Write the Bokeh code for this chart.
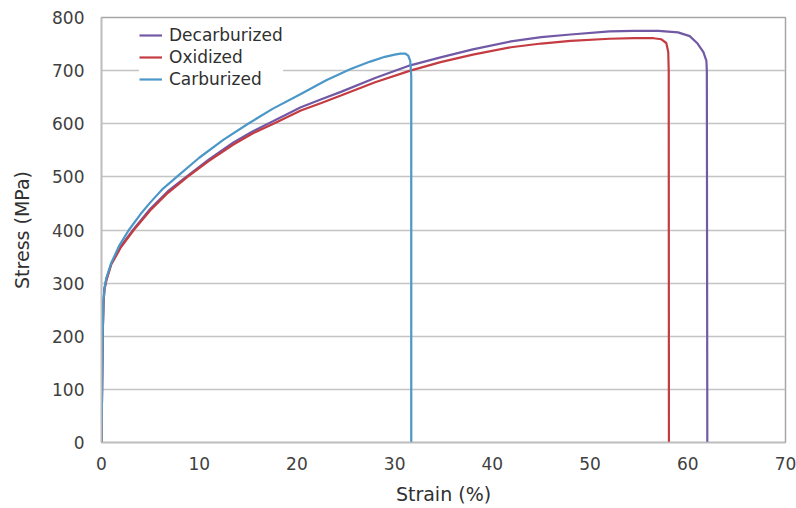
from bokeh.plotting import figure
from bokeh.models import Range1d, FixedTicker, Legend, LegendItem
from bokeh.embed import file_html
from bokeh.resources import INLINE

# ---- data ----
decarb_strain = [0, 0.12, 0.2, 0.3, 0.5, 1.0, 2.0, 3.3, 5.0, 6.8, 8.8, 11.0, 13.5, 15.5, 17.6,
                 20.4, 22.5, 24.5, 28.0, 31.6, 34.7, 38.0, 41.9, 45.0, 48.0, 52.0, 54.5, 57.0,
                 59.0, 60.2, 61.0, 61.6, 61.9, 61.95, 62.0]
decarb_stress = [0, 200, 263, 290, 307, 337, 370, 402, 440, 473, 502, 533, 565, 586, 605,
                 631, 646, 660, 686, 710, 725, 740, 755, 763, 768, 774, 775, 775,
                 772, 765, 751, 735, 719, 700, 0]

oxid_strain = [0, 0.12, 0.2, 0.3, 0.5, 1.0, 2.0, 3.3, 5.0, 6.8, 8.8, 11.0, 13.5, 15.5, 17.6,
               20.4, 22.5, 24.5, 28.0, 31.6, 34.7, 38.0, 41.9, 45.0, 48.0, 52.0, 54.5, 56.5,
               57.3, 57.8, 58.0, 58.05, 58.07]
oxid_stress = [0, 200, 262, 288, 305, 335, 368, 400, 437, 470, 500, 530, 561, 582, 600,
               625, 639, 653, 678, 700, 716, 730, 744, 751, 756, 760, 761, 761,
               759, 752, 735, 700, 0]

carb_strain = [0, 0.12, 0.2, 0.3, 0.5, 1.0, 1.8, 2.8, 4.0, 5.0, 6.3, 7.7, 10.0, 12.5, 15.0,
               17.5, 20.4, 23.0, 25.5, 27.5, 29.0, 30.0, 30.6, 31.1, 31.4, 31.6, 31.7, 31.7]
carb_stress = [0, 200, 265, 290, 310, 338, 370, 400, 430, 452, 478, 500, 536, 570, 600,
               628, 656, 682, 703, 717, 726, 730, 732, 732, 728, 718, 690, 0]

series_names = ["Decarburized", "Oxidized", "Carburized"]
series_colors = ["#7259a6", "#c43c42", "#4b97c8"]
x_ticks = [0, 10, 20, 30, 40, 50, 60, 70]
y_ticks = [0, 100, 200, 300, 400, 500, 600, 700, 800]

FONT = "DejaVu Sans"

p = figure(width=796, height=508, output_backend="svg", toolbar_location=None,
           x_range=Range1d(0, 70), y_range=Range1d(0, 800),
           min_border_left=101, min_border_right=11, min_border_top=17, min_border_bottom=66)

p.background_fill_color = "white"
p.border_fill_color = "white"
p.outline_line_color = "#a6a6a6"
p.outline_line_width = 1.5

p.xgrid.grid_line_color = None
p.ygrid.grid_line_color = "#c4c4c4"
p.ygrid.grid_line_width = 1.5
p.ygrid.ticker = FixedTicker(ticks=y_ticks)

p.xaxis.ticker = FixedTicker(ticks=x_ticks)
p.yaxis.ticker = FixedTicker(ticks=y_ticks)

for ax in (p.xaxis[0], p.yaxis[0]):
    ax.axis_line_color = "#bdbdbd"
    ax.axis_line_width = 1.5
    ax.major_tick_line_color = None
    ax.minor_tick_line_color = None
    ax.major_label_text_font = FONT
    ax.major_label_text_font_size = "17px"
    ax.major_label_text_color = "#404040"
    ax.axis_label_text_font = FONT
    ax.axis_label_text_font_size = "19px"
    ax.axis_label_text_font_style = "normal"
    ax.axis_label_text_color = "#303030"

p.xaxis.axis_label = "Strain (%)"
p.yaxis.axis_label = "Stress (MPa)"
p.xaxis.major_label_standoff = 8
p.yaxis.major_label_standoff = 11
p.xaxis.axis_label_standoff = 10
p.yaxis.axis_label_standoff = 16

renderers = []
for xs, ys, col in [(decarb_strain, decarb_stress, series_colors[0]),
                    (oxid_strain, oxid_stress, series_colors[1]),
                    (carb_strain, carb_stress, series_colors[2])]:
    r = p.line(xs, ys, line_color=col, line_width=2.2)
    renderers.append(r)

legend = Legend(items=[LegendItem(label=n, renderers=[r]) for n, r in zip(series_names, renderers)],
                location=(38, 352))
legend.label_text_font = FONT
legend.label_text_font_size = "17px"
legend.label_text_color = "#303030"
legend.glyph_width = 23
legend.glyph_height = 22
legend.label_height = 22
legend.label_standoff = 7
legend.spacing = 0
legend.padding = 4
legend.margin = 0
legend.border_line_color = None
legend.background_fill_color = "white"
legend.background_fill_alpha = 1.0
p.add_layout(legend, "center")

open("out.html", "w").write(file_html(p, INLINE))
